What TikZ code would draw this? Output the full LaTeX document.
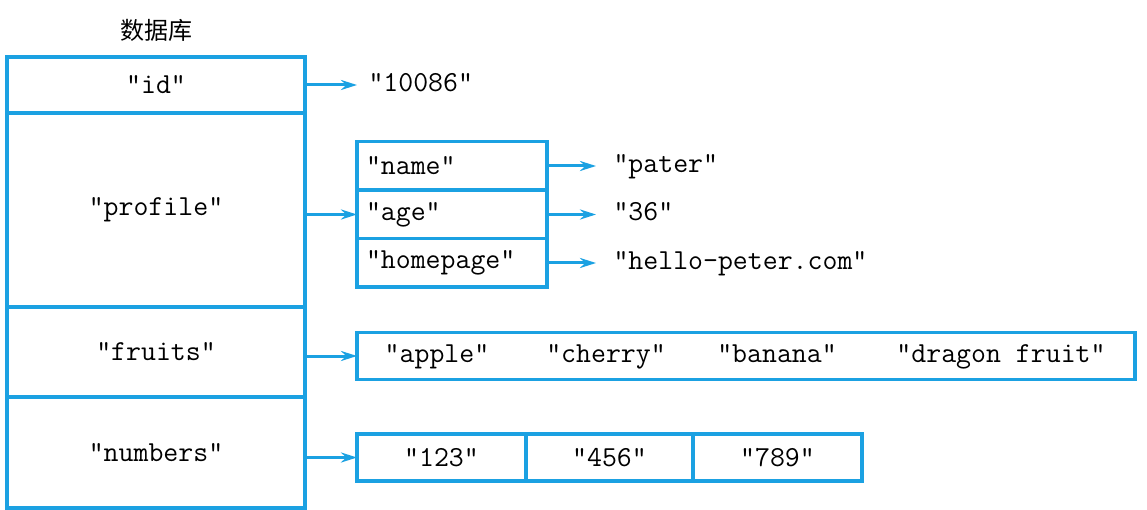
\documentclass[tikz,border=0pt]{standalone}
\usepackage{fontspec}
\newfontfamily\cjk{Noto Sans CJK SC}
\usepackage{tikz}
\usetikzlibrary{shapes, arrows, arrows.meta, calc, positioning}
\definecolor{dbblue}{RGB}{27,161,226}

\begin{document}
\begin{tikzpicture}[x=1pt, y=-1pt, >={Stealth[length=16pt,width=10pt]},
    font=\ttfamily\fontsize{29}{29}\selectfont]
    \tikzstyle{format} = [draw=dbblue, line width=3.5pt, rectangle,
	minimum width=298pt, inner sep=0pt, outer sep=0pt]
    \tikzstyle{sub} = [draw=dbblue, line width=3.5pt, rectangle, outer sep=0pt,
	text width=172pt, align=left, inner sep=9pt, minimum height=48.5pt]
    \tikzstyle{cell} = [draw=dbblue, line width=3.5pt, rectangle,
	minimum height=47pt, inner sep=0pt, outer sep=0pt]
    \tikzstyle{val} = [inner sep=0pt, text height=19pt, text depth=6pt]

	\useasboundingbox (0,0) rectangle (1147,510);

		\path[->, line width=3pt]
			node (20) at (156,30) {\cjk\fontsize{24}{24}\selectfont 数据库}
			node[format, minimum height=56pt] (1) at (156,85) {"id"}
			node[format, minimum height=194pt, below=0pt of 1] (2) {"profile"}
			node[format, minimum height=90pt, below=0pt of 2] (3) {"fruits"}
			node[format, minimum height=111pt, below=0pt of 3] (4) {"numbers"}

			node[sub] (5) at (452,166) {"name"}
			node[sub, below=0pt of 5] (6) {"age"}
			node[sub, below=0pt of 6] (7) {"homepage"}

			node[val, right=62pt of 1] (8) {"10086"}
			node[val, right=65pt of 5] (9) {"pater"}
			node[val, right=65pt of 6] (10) {"36"}
			node[val, right=65pt of 7] (11) {"hello-peter.com"}

			node[cell, minimum width=778pt] (12) at (746,356) {}
			node[val] (13) at (437,356) {"apple"}
			node[val] (14) at (606,356) {"cherry"}
			node[val] (15) at (777,356) {"banana"}
			node[val] (16) at (1001,356) {"dragon fruit"}

			node[cell, minimum width=169pt] (17) at (441.5,457.5) {"123"}
			node[cell, minimum width=167pt, right=0pt of 17] (18) {"456"}
			node[cell, minimum width=169pt, right=0pt of 18] (19) {"789"}

			(1) edge[dbblue, shorten >=10pt] (8)
			(5) edge[dbblue, shorten >=16pt] (9)
			(6) edge[dbblue, shorten >=16pt] (10)
			(7) edge[dbblue, shorten >=16pt] (11)
			(2.east |- 6.west) edge[dbblue] (6.west)
			(3.east |- 12.west) edge[dbblue] (12.west)
			(4.east |- 17.west) edge[dbblue] (17.west)
		;

\end{tikzpicture}
\end{document}
